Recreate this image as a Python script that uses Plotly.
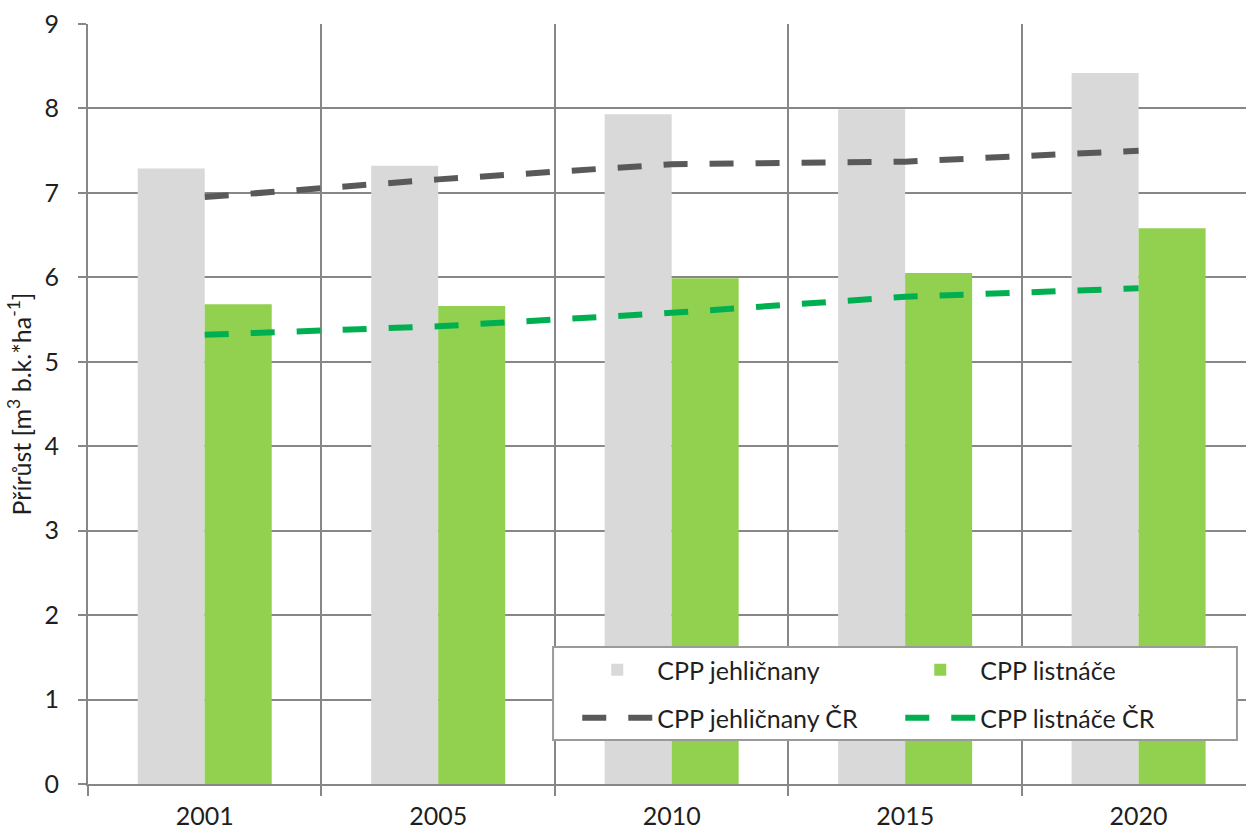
import plotly.graph_objects as go

# Categories (survey years)
years = ["2001", "2005", "2010", "2015", "2020"]

# Increment per hectare – regional forest types (bars)
cpp_jehlicnany = [7.29, 7.32, 7.93, 7.99, 8.42]
cpp_listnace = [5.68, 5.66, 5.99, 6.05, 6.58]

# National (ČR) reference values (dashed lines)
cpp_jehlicnany_cr = [6.95, 7.16, 7.34, 7.37, 7.50]
cpp_listnace_cr = [5.32, 5.42, 5.58, 5.77, 5.87]

y_ticks = [0, 1, 2, 3, 4, 5, 6, 7, 8, 9]

FONT = "Lato"
TXT = "#1f1f1f"
GRID = "#878787"

fig = go.Figure()

fig.add_trace(go.Bar(
    x=years, y=cpp_jehlicnany, name="CPP jehličnany",
    marker=dict(color="#d9d9d9", line=dict(width=0)),
    legend="legend",
))
fig.add_trace(go.Bar(
    x=years, y=cpp_listnace, name="CPP listnáče",
    marker=dict(color="#92d050", line=dict(width=0)),
    legend="legend",
))
fig.add_trace(go.Scatter(
    x=years, y=cpp_jehlicnany_cr, name="CPP jehličnany ČR",
    mode="lines", line=dict(color="#595959", width=6, dash="24px,22px"),
    legend="legend2",
))
fig.add_trace(go.Scatter(
    x=years, y=cpp_listnace_cr, name="CPP listnáče ČR",
    mode="lines", line=dict(color="#00b050", width=6, dash="24px,22px"),
    legend="legend2",
))

legend_common = dict(
    orientation="h",
    xanchor="left",
    yanchor="middle",
    x=0.4225,
    bgcolor="rgba(0,0,0,0)",
    borderwidth=0,
    font=dict(family=FONT, size=25, color=TXT),
    entrywidth=238,
    itemwidth=70,
    traceorder="normal",
)

fig.update_layout(
    width=1246,
    height=829,
    margin=dict(l=88, r=0, t=24, b=45),
    paper_bgcolor="white",
    plot_bgcolor="white",
    font=dict(family=FONT, size=25, color=TXT),
    barmode="group",
    bargap=0.426,
    bargroupgap=0,
    showlegend=True,
    legend=dict(legend_common, y=0.15),
    legend2=dict(legend_common, y=0.0868),
    xaxis=dict(
        type="category",
        range=[-0.5, 4.46],
        tickson="boundaries",
        automargin=False,
        showgrid=True,
        gridcolor=GRID,
        gridwidth=2,
        showline=True,
        linecolor=GRID,
        linewidth=2,
        ticks="outside",
        ticklen=10,
        tickwidth=2,
        tickcolor=GRID,
        tickfont=dict(family=FONT, size=25, color=TXT),
        ticklabelstandoff=9,
        zeroline=False,
    ),
    yaxis=dict(
        range=[0, 9],
        tickvals=y_ticks,
        automargin=False,
        showgrid=True,
        gridcolor=GRID,
        gridwidth=2,
        showline=True,
        linecolor=GRID,
        linewidth=2,
        ticks="outside",
        ticklen=8,
        tickwidth=2,
        tickcolor=GRID,
        tickfont=dict(family=FONT, size=25, color=TXT),
        ticklabelstandoff=14,
        zeroline=False,
        title=dict(
            text="Přírůst [m<sup>3</sup> b.k.*ha<sup>-1</sup>]",
            font=dict(family=FONT, size=25, color=TXT),
            standoff=6,
        ),
    ),
    shapes=[
        # legend frame
        dict(type="rect", xref="paper", yref="paper",
             x0=0.4016, x1=0.9922, y0=0.0579, y1=0.1803,
             fillcolor="white", line=dict(color="#9a9a9a", width=2),
             layer="above"),
    ],
)

fig.write_html("out.html")
